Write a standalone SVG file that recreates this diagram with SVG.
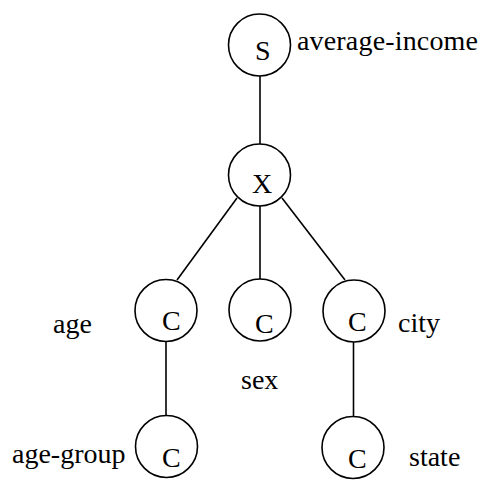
<svg xmlns="http://www.w3.org/2000/svg" width="485" height="480" viewBox="0 0 485 480">
  <style>
    .node circle { fill: #ffffff; stroke: #000000; stroke-width: 1.6; }
    .sym { font-family: "Liberation Serif", "Times New Roman", serif; font-size: 28px; fill: #000000; }
    .lbl { font-family: "Liberation Serif", "Times New Roman", serif; font-size: 28px; fill: #000000; }
    #connectors line { stroke: #000000; stroke-width: 1.6; }
  </style>
  <rect width="485" height="480" fill="#ffffff"/>

  <g id="connectors">
    <line x1="260" y1="76" x2="260" y2="144"/>
    <line x1="237" y1="198" x2="177" y2="280"/>
    <line x1="260" y1="206" x2="260" y2="279"/>
    <line x1="282" y1="198" x2="345" y2="280"/>
    <line x1="166" y1="341" x2="166" y2="415"/>
    <line x1="353.5" y1="342" x2="353.5" y2="416"/>
  </g>

  <g id="node-s" class="node">
    <circle cx="259.5" cy="45" r="31"/>
    <text class="sym" x="255" y="60">S</text>
    <text class="lbl" x="297" y="50" textLength="181" lengthAdjust="spacing">average-income</text>
  </g>
  <g id="node-x" class="node">
    <circle cx="259.5" cy="175" r="31"/>
    <text class="sym" x="252" y="193">X</text>
  </g>
  <g id="node-age" class="node">
    <circle cx="166" cy="310.5" r="31"/>
    <text class="sym" x="162" y="330">C</text>
    <text class="lbl" x="53" y="333">age</text>
  </g>
  <g id="node-sex" class="node">
    <circle cx="260" cy="310" r="31"/>
    <text class="sym" x="255" y="333">C</text>
    <text class="lbl" x="241" y="389">sex</text>
  </g>
  <g id="node-city" class="node">
    <circle cx="354" cy="311" r="31"/>
    <text class="sym" x="348" y="331">C</text>
    <text class="lbl" x="398" y="332">city</text>
  </g>
  <g id="node-age-group" class="node">
    <circle cx="166.5" cy="446.5" r="31"/>
    <text class="sym" x="162" y="467">C</text>
    <text class="lbl" x="12" y="463">age-group</text>
  </g>
  <g id="node-state" class="node">
    <circle cx="353" cy="447.5" r="31"/>
    <text class="sym" x="348" y="468">C</text>
    <text class="lbl" x="409" y="466">state</text>
  </g>
</svg>
